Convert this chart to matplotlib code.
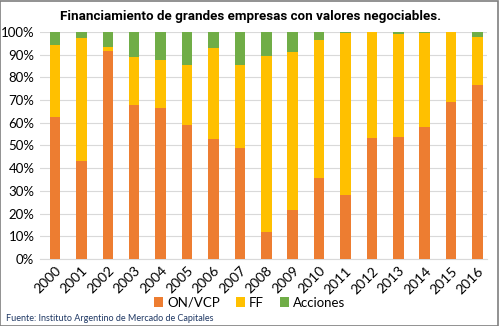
import numpy as np
import matplotlib
matplotlib.use("Agg")
import matplotlib.pyplot as plt
from matplotlib.ticker import PercentFormatter

# Datos (porcentajes)
anios = [str(a) for a in range(2000, 2017)]
on_vcp = [62.5, 43.0, 91.5, 68.0, 66.5, 59.0, 53.0, 48.7, 12.0, 21.8, 35.8, 28.3, 53.3, 53.8, 58.3, 69.0, 76.5]
ff = [31.8, 54.5, 2.0, 21.0, 21.3, 26.5, 39.8, 36.8, 77.5, 69.2, 60.7, 71.2, 46.7, 45.4, 41.2, 31.0, 21.3]
acciones = [5.7, 2.5, 6.5, 11.0, 12.2, 14.5, 7.2, 14.5, 10.5, 9.0, 3.5, 0.5, 0.0, 0.8, 0.5, 0.0, 2.2]

plt.rcParams['font.family'] = ['Lato', 'DejaVu Sans']

fig = plt.figure(figsize=(4.99, 3.26), dpi=100)
ax = fig.add_axes([0.080, 0.2055, 0.896, 0.6965])

x = np.arange(len(anios))
w = 0.40
on_arr = np.array(on_vcp)
ff_arr = np.array(ff)
ac_arr = np.array(acciones)

ax.bar(x, on_arr, w, color="#ED7D31", label="ON/VCP", zorder=3)
ax.bar(x, ff_arr, w, bottom=on_arr, color="#FFC000", label="FF", zorder=3)
ax.bar(x, ac_arr, w, bottom=on_arr + ff_arr, color="#70AD47", label="Acciones", zorder=3)

ax.set_ylim(0, 100)
ax.set_xlim(-0.57, 16.36)
ax.set_yticks(np.arange(0, 101, 10))
ax.yaxis.set_major_formatter(PercentFormatter(decimals=0))
ax.set_xticks(x)
ax.set_xticklabels(anios, rotation=45, ha="right", rotation_mode="anchor", fontsize=10)
ax.tick_params(axis="y", labelsize=9.5, length=0, pad=4)
ax.tick_params(axis="x", length=0, pad=4)
ax.grid(axis="y", color="#d9d9d9", linewidth=0.8, zorder=0)
for s in ["top", "right", "left"]:
    ax.spines[s].set_visible(False)
ax.spines["bottom"].set_color("#d9d9d9")

fig.text(0.502, 0.950, "Financiamiento de grandes empresas con valores negociables.",
         ha="center", va="center", fontsize=9.6, fontweight="bold",
         family=["Roboto", "DejaVu Sans"])

fig.legend(loc="center", bbox_to_anchor=(0.50, 0.072), ncol=3, frameon=False,
           fontsize=9.5, handlelength=0.7, handleheight=0.7, handletextpad=0.3,
           columnspacing=1.2)

fig.text(0.012, 0.022, "Fuente: Instituto Argentino de Mercado de Capitales",
         fontsize=6.5, color="#1f3864", ha="left", va="center")

# borde del grafico
fig.patches.append(plt.Rectangle((0.001, 0.001), 0.997, 0.997, transform=fig.transFigure,
                                 fill=False, edgecolor="#7f7f7f", linewidth=1.2))

fig.savefig("out.png", dpi=100)
